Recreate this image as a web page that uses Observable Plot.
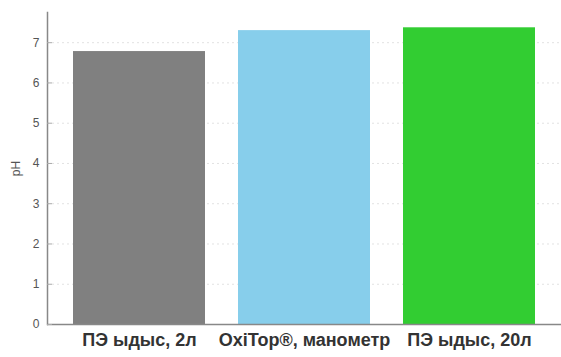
<!DOCTYPE html>
<html>
<head>
<meta charset="utf-8">
<script src="https://cdn.jsdelivr.net/npm/d3@7"></script>
<script src="https://cdn.jsdelivr.net/npm/@observablehq/plot@0.6"></script>
<style>
body { margin: 0; background: #fff; }
#chart svg { display: block; }
</style>
</head>
<body>
<div id="chart"></div>
<script>
const categories = ["ПЭ ыдыс, 2л", "OxiTop®, манометр", "ПЭ ыдыс, 20л"];
const phValues = [6.78, 7.30, 7.37];
const barColors = ["#808080", "#87ceeb", "#32cd32"];
const yTicks = [0, 1, 2, 3, 4, 5, 6, 7];
const yLabel = "pH";

const data = categories.map((c, i) => ({category: c, ph: phValues[i], color: barColors[i]}));

const chart = Plot.plot({
  width: 561,
  height: 357,
  marginLeft: 47,
  marginRight: 0,
  marginTop: 12,
  marginBottom: 33,
  style: {fontFamily: "Liberation Sans, Arial, sans-serif", background: "#fff"},
  x: {domain: categories, paddingInner: 0.2, paddingOuter: 0.15, label: null},
  y: {domain: [0, 7.75], label: null},
  marks: [
    Plot.gridY(yTicks, {stroke: "#e2e2e2", strokeOpacity: 1, strokeDasharray: "2,3"}),
    Plot.barY(data, {x: "category", y: "ph", fill: "color"}),
    Plot.ruleY([0], {stroke: "#888", strokeWidth: 1.5}),
    Plot.frame({anchor: "left", stroke: "#888", strokeWidth: 1.5}),
    Plot.axisY(yTicks, {tickSize: -5, stroke: "#aaa", tickFormat: () => "", label: null}),
    Plot.axisY(yTicks, {tickSize: 0, tickPadding: 8, fill: "#555", fontSize: 12, label: yLabel, labelAnchor: "center", labelOffset: 36, labelArrow: "none"}),
    Plot.axisX({tickSize: 0, tickPadding: 9, fontSize: 18, fontWeight: "bold", fill: "#333", label: null})
  ]
});
document.getElementById("chart").appendChild(chart);
</script>
</body>
</html>
